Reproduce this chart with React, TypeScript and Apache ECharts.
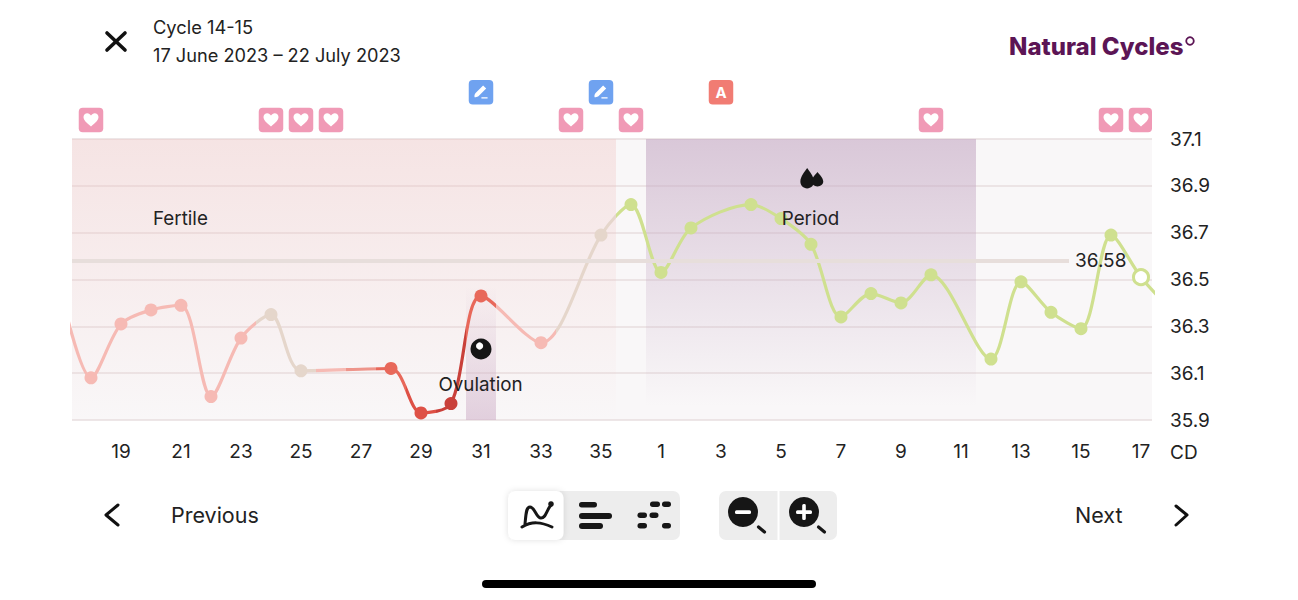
import React, { useEffect, useRef } from "react";
import * as echarts from "echarts";

// Position on the x axis = index in dayLabels (first and last fall outside the visible window)
const dayLabels = [17, 18, 19, 20, 21, 22, 23, 24, 25, 26, 27, 28, 29, 30, 31, 32, 33, 34, 35, 36, 1, 2, 3, 4, 5, 6, 7, 8, 9, 10, 11, 12, 13, 14, 15, 16, 17, 18];
const temps: (number | null)[] = [36.45, 36.08, 36.31, 36.37, 36.39, 36.0, 36.25, 36.35, 36.11, null, null, 36.12, 35.93, 35.97, 36.43, null, 36.23, null, 36.69, 36.82, 36.53, 36.72, null, 36.82, 36.76, 36.65, 36.34, 36.44, 36.4, 36.52, null, 36.16, 36.49, 36.36, 36.29, 36.69, 36.51, 36.37];
const latestIndex = 36;
const xTickPositions = [2, 4, 6, 8, 10, 12, 14, 16, 18, 20, 22, 24, 26, 28, 30, 32, 34, 36];
const yTicks = [35.9, 36.1, 36.3, 36.5, 36.7, 36.9, 37.1];
const averageTemp = 36.58;
const averageEnd = 33.6;
const heartPositions = [1, 7, 8, 9, 17, 19, 29, 35, 36];
const penPositions = [14, 18];
const appPositions = [22];
const linePieces: [number, number, string][] = [
  [-1, 6.5, "#F6BAB4"],
  [6.5, 8.5, "#E5D6CB"],
  [8.5, 9.5, "#F6BAB4"],
  [9.5, 10.5, "#EE958B"],
  [10.5, 11.5, "#E8685A"],
  [11.5, 12.5, "#DE5146"],
  [12.5, 13.5, "#C9403A"],
  [13.5, 14.5, "#E8685A"],
  [14.5, 16.5, "#F6BAB4"],
  [16.5, 18.5, "#E5D6CB"],
  [18.5, 40, "#CFE08F"],
];
const xMin = 0.3667;
const xMax = 36.3667;
const yMin = 35.9;
const yMax = 37.1;

const FONT = "Inter";
const INK = "#222222";
const HEART = "M12 21 C5 15 1 11.5 1 7 C1 3.5 3.7 1.5 6.5 1.5 C8.8 1.5 10.8 2.8 12 5 C13.2 2.8 15.2 1.5 17.5 1.5 C20.3 1.5 23 3.5 23 7 C23 11.5 19 15 12 21 Z";
const PEN = "M15.5 2 L20 6.5 L9 17.5 C7.5 19 4.8 19.5 3 19 C2.5 17 3 14.5 4.5 13 Z M13 19 L22 19 L22 21 L13 21 Z";
const DROP = "M12 0 C15 5 22 12 22 20 C22 26 17.5 30 12 30 C6.5 30 2 26 2 20 C2 12 9 5 12 0 Z";

echarts.graphic.registerShape("heartShape", echarts.graphic.extendPath(HEART, {}) as any);
echarts.graphic.registerShape("dropShape", echarts.graphic.extendPath(DROP, {}) as any);
echarts.graphic.registerShape(
  "chartIcon",
  echarts.graphic.extendPath("M525 524 C526 514 526 507 530 507 C535 507 536 518 541 518 C546 518 546 511 551 505 M522 527 C532 521 541 522 552 527", {}) as any
);

function label(text: string, x: number, y: number, fontSize: number, extra: any = {}) {
  return {
    type: "text",
    x,
    y,
    z: 20,
    style: { text, fontFamily: FONT, fontSize, fill: INK, textVerticalAlign: "middle", verticalAlign: "middle", ...extra },
  };
}
function box(x: number, y: number, width: number, height: number, r: number, fill: string, extra: any = {}) {
  return { type: "rect", z: 20, shape: { x, y, width, height, r }, style: { fill, ...extra } };
}
function stroke(points: number[][], lineWidth: number, color = INK) {
  return { type: "polyline", z: 20, shape: { points }, style: { stroke: color, lineWidth, fill: "none", lineCap: "round", lineJoin: "round" } };
}

function renderBadge(params: any, api: any) {
  const kind = api.value(1);
  const xc = api.coord([api.value(0), yMin])[0];
  const right = api.coord([xMax, yMin])[0];
  const size = 24.5;
  const top = kind === 0 ? 107.8 : 80;
  const left = xc - size / 2;
  const width = Math.min(size, right - left);
  const fill = kind === 0 ? "#F09AB6" : kind === 1 ? "#6FA2F0" : "#F17C73";
  const children: any[] = [
    { type: "rect", shape: { x: left, y: top, width, height: size, r: 4 }, style: { fill } },
  ];
  if (kind === 0) {
    children.push({
      type: "path",
      shape: { pathData: HEART, layout: "center", x: xc - 7.5, y: top + 5, width: 15, height: 14 },
      style: { fill: "#ffffff" },
    });
  } else if (kind === 1) {
    children.push({
      type: "path",
      shape: { pathData: PEN, layout: "center", x: xc - 7, y: top + 5.5, width: 14, height: 13 },
      style: { fill: "#ffffff" },
    });
  } else {
    children.push({
      type: "text",
      style: { text: "A", x: xc, y: top + size / 2, align: "center", verticalAlign: "middle", fontFamily: FONT, fontWeight: 700, fontSize: 15, fill: "#ffffff" },
    });
  }
  return { type: "group", children };
}

export default function App() {
  const ref = useRef<HTMLDivElement>(null);
  useEffect(() => {
    const chart = echarts.init(ref.current!, undefined, { renderer: "svg" });
    const points = temps.map((t, i) => (t === null ? null : [i, t])).filter(Boolean) as number[][];
    const badges = [
      ...heartPositions.map((p) => [p, 0]),
      ...penPositions.map((p) => [p, 1]),
      ...appPositions.map((p) => [p, 2]),
    ];
    const vGrad = (stops: [number, string][]) => ({
      type: "linear",
      x: 0,
      y: 0,
      x2: 0,
      y2: 1,
      colorStops: stops.map(([offset, color]) => ({ offset, color })),
    });
    const option: any = {
      animation: false,
      backgroundColor: "#ffffff",
      grid: { left: 72, top: 139, width: 1080, height: 281, show: true, backgroundColor: "#F9F7F8", borderWidth: 0 },
      xAxis: {
        type: "value",
        min: xMin,
        max: xMax,
        axisLine: { show: false },
        axisTick: { show: false, customValues: xTickPositions },
        splitLine: { show: false },
        axisLabel: {
          customValues: xTickPositions,
          formatter: (v: number) => String(dayLabels[Math.round(v)]),
          fontFamily: FONT,
          fontSize: 19,
          color: INK,
          margin: 22,
          showMinLabel: true,
          showMaxLabel: true,
          hideOverlap: false,
        },
      },
      yAxis: {
        type: "value",
        position: "right",
        min: yMin,
        max: yMax,
        axisLine: { show: false },
        axisTick: { show: false, customValues: yTicks },
        splitLine: { show: true, lineStyle: { color: "#E7DEDF", width: 1.5 } },
        axisLabel: {
          customValues: yTicks,
          formatter: (v: number) => v.toFixed(1),
          fontFamily: FONT,
          fontSize: 19,
          color: INK,
          margin: 18,
        },
      },
      visualMap: {
        type: "piecewise",
        show: false,
        dimension: 0,
        seriesIndex: 1,
        pieces: linePieces.map(([gte, lt, color]) => ({ gte, lt, color })),
      },
      series: [
        {
          type: "line",
          name: "zones",
          data: [],
          silent: true,
          z: 1,
          markArea: {
            silent: true,
            data: [
              [
                { coord: [xMin, yMax], itemStyle: { color: vGrad([[0, "rgba(239,192,190,0.35)"], [1, "rgba(239,192,190,0)"]]) } },
                { coord: [18.5, yMin] },
              ],
              [
                { coord: [19.5, yMax], itemStyle: { color: vGrad([[0, "rgba(196,168,195,0.6)"], [0.95, "rgba(196,168,195,0)"]]) } },
                { coord: [30.5, yMin] },
              ],
              [
                { coord: [13.5, 36.47], itemStyle: { color: vGrad([[0, "rgba(206,174,199,0)"], [1, "rgba(206,174,199,0.55)"]]) } },
                { coord: [14.5, yMin] },
              ],
            ],
          },
          markLine: {
            silent: true,
            symbol: "none",
            lineStyle: { color: "#E7DEDB", width: 4, type: "solid" },
            label: {
              show: true,
              position: "end",
              formatter: String(averageTemp),
              fontFamily: FONT,
              fontSize: 19,
              color: INK,
              distance: 6,
            },
            data: [[{ coord: [xMin, averageTemp] }, { coord: [averageEnd, averageTemp] }]],
          },
        },
        {
          type: "line",
          name: "Temperature",
          data: points,
          smooth: 0.3,
          symbol: "circle",
          symbolSize: 13,
          showSymbol: true,
          showAllSymbol: true,
          lineStyle: { width: 3.2 },
          z: 3,
        },
        {
          type: "scatter",
          name: "Latest",
          data: [[latestIndex, temps[latestIndex]]],
          symbolSize: 15,
          itemStyle: { color: "#ffffff", borderColor: "#CFE08F", borderWidth: 3, opacity: 1 },
          z: 4,
        },
        {
          type: "custom",
          name: "Badges",
          data: badges,
          renderItem: renderBadge,
          encode: { x: 0 },
          clip: false,
          silent: true,
          z: 5,
        },
      ],
      graphic: {
        elements: [
          // header
          stroke([[107, 33], [125, 50]], 3.6, "#111111"),
          stroke([[125, 33], [107, 50]], 3.6, "#111111"),
          label("Cycle 14-15", 153, 27, 18.3),
          label("17 June 2023 – 22 July 2023", 153, 55, 18.2),
          label("Natural Cycles", 1009, 46, 24, { fontWeight: 800, fill: "#5C1555" }),
          { type: "circle", z: 20, shape: { cx: 1190, cy: 41, r: 3.8 }, style: { fill: "none", stroke: "#5C1555", lineWidth: 1.8 } },
          // chart annotations
          label("Fertile", 153, 218, 18.8),
          label("Period", 810.5, 218, 18.8, { align: "center", textAlign: "center" }),
          label("Ovulation", 480.5, 384, 18.8, { align: "center", textAlign: "center" }),
          { type: "dropShape", z: 20, x: 799, y: 168, scaleX: 0.68, scaleY: 0.68, style: { fill: "#161616" } },
          { type: "dropShape", z: 20, x: 810.5, y: 172, scaleX: 0.58, scaleY: 0.48, style: { fill: "#161616" } },
          { type: "circle", z: 20, shape: { cx: 481, cy: 349, r: 10.5 }, style: { fill: "#161616" } },
          { type: "circle", z: 20, shape: { cx: 479.6, cy: 346, r: 3.6 }, style: { fill: "#ffffff" } },
          label("CD", 1170, 452, 19),
          // navigation
          stroke([[118, 505], [106, 515], [118, 525]], 3, "#111111"),
          label("Previous", 171, 515, 21.5),
          label("Next", 1075, 515, 21.5),
          stroke([[1176, 506], [1187, 515], [1176, 525]], 3, "#111111"),
          box(508, 491, 172, 49, 7, "#EDEDED"),
          box(508, 491, 55.5, 49, 7, "#ffffff", { shadowBlur: 6, shadowColor: "rgba(0,0,0,0.12)" }),
          { type: "chartIcon", z: 21, style: { fill: "none", stroke: "#161616", lineWidth: 3, lineCap: "round", lineJoin: "round" } },
          { type: "circle", z: 21, shape: { cx: 551, cy: 504, r: 2.8 }, style: { fill: "#161616" } },
          box(579, 502, 18, 5.5, 2.7, "#161616"),
          box(579, 513, 33, 6, 3, "#161616"),
          box(579, 523, 24, 6, 3, "#161616"),
          box(650, 501.5, 10, 5.5, 2.7, "#161616"),
          box(662, 501.5, 9, 5.5, 2.7, "#161616"),
          box(637.5, 512.5, 9.5, 5.5, 2.7, "#161616"),
          box(649.5, 512.5, 9, 5.5, 2.7, "#161616"),
          box(637.5, 523, 9.5, 5.5, 2.7, "#161616"),
          box(662, 523, 9, 5.5, 2.7, "#161616"),
          box(719, 491, 118, 49, 7, "#EDEDED"),
          box(777.5, 491, 2, 49, 0, "#ffffff"),
          { type: "circle", z: 21, shape: { cx: 743, cy: 512, r: 15 }, style: { fill: "#161616" } },
          box(735, 510.3, 16, 3.6, 1.5, "#ffffff", {}),
          stroke([[758.5, 527], [764.5, 532]], 3.2, "#161616"),
          { type: "circle", z: 21, shape: { cx: 804, cy: 512, r: 15 }, style: { fill: "#161616" } },
          box(796, 510.3, 16, 3.6, 1.5, "#ffffff"),
          box(802.2, 504, 3.6, 16, 1.5, "#ffffff"),
          stroke([[818.5, 527], [824.5, 532]], 3.2, "#161616"),
          // home indicator
          box(482, 580, 334, 8, 4, "#000000"),
        ].map((e: any, i: number) => {
          // white glyph details sit above the dark discs
          if (e.type === "rect" && e.style.fill === "#ffffff" && e.shape.width < 20) return { ...e, z: 22 };
          return e;
        }),
      },
    };
    chart.setOption(option);
    return () => chart.dispose();
  }, []);
  return (
    <div
      ref={ref}
      style={{ position: "absolute", left: 0, top: 0, width: 1298, height: 600, overflow: "hidden", background: "#fff" }}
    />
  );
}
